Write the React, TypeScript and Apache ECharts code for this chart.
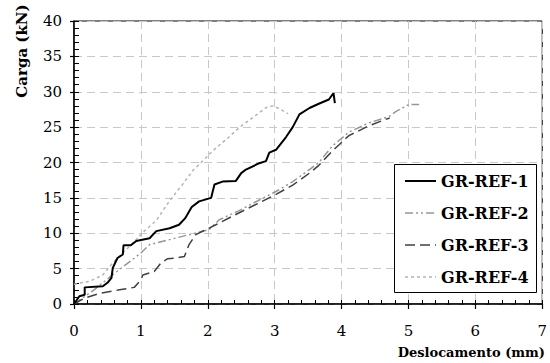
import React, { useEffect, useRef } from "react";
import * as echarts from "echarts";

const ref1X = [0, 0.08, 0.16, 0.16, 0.43, 0.5, 0.56, 0.58, 0.65, 0.73, 0.74, 0.85, 0.93, 1.13, 1.23, 1.43, 1.57, 1.66, 1.76, 1.87, 2.05, 2.1, 2.22, 2.42, 2.5, 2.57, 2.77, 2.87, 2.92, 3.02, 3.17, 3.27, 3.37, 3.52, 3.66, 3.81, 3.88, 3.9];
const ref1Y = [0, 1.1, 1.3, 2.35, 2.5, 3.0, 3.7, 5.1, 6.5, 7.0, 8.3, 8.3, 8.9, 9.3, 10.3, 10.7, 11.2, 12.1, 13.7, 14.5, 15.0, 16.9, 17.3, 17.4, 18.5, 19.0, 19.9, 20.2, 21.4, 21.8, 23.6, 25.0, 26.8, 27.7, 28.3, 28.9, 29.8, 28.4];

const ref2X = [0, 0.3, 0.6, 1.0, 1.13, 1.43, 1.72, 2.02, 2.17, 2.47, 2.77, 3.02, 3.27, 3.52, 3.66, 3.86, 4.11, 4.41, 4.71, 4.81, 5.01, 5.16];
const ref2Y = [0, 2.0, 4.3, 7.2, 8.4, 9.1, 9.8, 10.5, 11.9, 13.2, 14.7, 15.9, 17.3, 19.0, 20.0, 22.3, 24.3, 25.6, 26.5, 27.2, 28.2, 28.2];

const ref3X = [0, 0.15, 0.38, 0.68, 0.9, 1.0, 1.03, 1.2, 1.3, 1.4, 1.53, 1.65, 1.72, 1.82, 1.97, 2.12, 2.47, 2.77, 3.02, 3.27, 3.52, 3.66, 3.86, 4.11, 4.41, 4.72];
const ref3Y = [0, 0.8, 1.5, 2.0, 2.35, 3.4, 4.1, 4.6, 5.8, 6.4, 6.5, 6.7, 8.4, 9.8, 10.5, 11.2, 12.9, 14.3, 15.5, 16.8, 18.5, 19.6, 21.6, 23.8, 25.2, 26.3];

const ref4X = [0, 0.23, 0.43, 0.58, 0.73, 0.93, 1.05, 1.23, 1.43, 1.63, 1.78, 1.88, 2.08, 2.28, 2.48, 2.68, 2.88, 2.97, 3.07, 3.2];
const ref4Y = [2.8, 3.2, 4.1, 5.8, 7.2, 9.1, 10.3, 11.8, 14.6, 17.0, 18.9, 19.8, 21.7, 23.3, 25.0, 26.4, 27.8, 28.0, 27.6, 26.9];

const seriesNames = ["GR-REF-1", "GR-REF-2", "GR-REF-3", "GR-REF-4"];
const xTitle = "Deslocamento (mm)";
const yTitle = "Carga (kN)";

const zip = (xs: number[], ys: number[]) => xs.map((x, i) => [x, ys[i]]);

const FONT = "DejaVu Serif";

const styles = [
  { color: "#000000", width: 2, type: "solid" as any, dash: null as any },
  { color: "#969696", width: 1.5, type: [8, 3, 2, 3, 2, 3] as any, dash: [8, 3, 2, 3, 2, 3] },
  { color: "#404040", width: 1.5, type: [10, 5] as any, dash: [10, 5] },
  { color: "#b4b4b4", width: 1.5, type: [3, 3] as any, dash: [3, 3] },
];

export default function App() {
  const ref = useRef<HTMLDivElement>(null);
  useEffect(() => {
    if (!ref.current) return;
    const chart = echarts.init(ref.current, undefined, { renderer: "svg" });
    const datas = [zip(ref1X, ref1Y), zip(ref2X, ref2Y), zip(ref3X, ref3Y), zip(ref4X, ref4Y)];

    const legendBox = { x: 394, y: 164, w: 142, h: 128 };
    const legendRows = [181, 213, 245, 277];
    const legendEls: any[] = [
      {
        type: "rect",
        shape: { x: legendBox.x + 0.5, y: legendBox.y + 0.5, width: legendBox.w, height: legendBox.h },
        style: { fill: "#ffffff", stroke: "#000", lineWidth: 1 },
        z: 100,
      },
    ];
    seriesNames.forEach((name, i) => {
      legendEls.push({
        type: "line",
        shape: { x1: 405, y1: legendRows[i], x2: 436, y2: legendRows[i] },
        style: { stroke: styles[i].color, lineWidth: styles[i].width, lineDash: styles[i].dash },
        z: 101,
      });
      legendEls.push({
        type: "text",
        x: 441,
        y: legendRows[i],
        style: {
          text: name,
          font: "bold 16px " + FONT,
          fill: "#000",
          textAlign: "left",
          textVerticalAlign: "middle",
        },
        z: 101,
      });
    });

    chart.setOption({
      animation: false,
      backgroundColor: "#ffffff",
      textStyle: { fontFamily: FONT },
      grid: {
        left: 74,
        right: 6,
        top: 21,
        bottom: 59,
        show: true,
        borderColor: "#000",
        borderWidth: 1,
        backgroundColor: "transparent",
      },
      xAxis: [
        {
          type: "value",
          min: 0,
          max: 7,
          interval: 1,
          position: "bottom",
          axisLine: { show: true, onZero: false, lineStyle: { color: "#000", width: 1.5 } },
          axisTick: { show: true, inside: false, length: 5, lineStyle: { color: "#000", width: 1.2 } },
          axisLabel: { color: "#000", fontFamily: FONT, fontSize: 15, margin: 19 },
          splitLine: { show: true, lineStyle: { color: "#c8c8c8", type: [8, 5], width: 1 } },
        },
        {
          type: "value",
          min: 0,
          max: 7,
          interval: 0.2,
          position: "bottom",
          offset: 0,
          axisLine: { show: false, onZero: false },
          axisTick: { show: true, inside: true, length: 4, lineStyle: { color: "#000", width: 1 } },
          axisLabel: { show: false },
          splitLine: { show: false },
        },
      ],
      yAxis: [
        {
          type: "value",
          min: 0,
          max: 40,
          interval: 5,
          position: "left",
          axisLine: { show: true, onZero: false, lineStyle: { color: "#000", width: 1.5 } },
          axisTick: { show: true, inside: false, length: 4, lineStyle: { color: "#000", width: 1.2 } },
          axisLabel: { color: "#000", fontFamily: FONT, fontSize: 15, margin: 12 },
          splitLine: { show: true, lineStyle: { color: "#c8c8c8", type: [8, 5], width: 1 } },
        },
        {
          type: "value",
          min: 0,
          max: 40,
          interval: 1,
          position: "left",
          offset: 0,
          axisLine: { show: false, onZero: false },
          axisTick: { show: true, inside: true, length: 5, lineStyle: { color: "#000", width: 1 } },
          axisLabel: { show: false },
          splitLine: { show: false },
        },
      ],
      graphic: [
        {
          type: "text",
          x: 22,
          y: 51,
          rotation: Math.PI / 2,
          style: {
            text: yTitle,
            font: "bold 15px " + FONT,
            fill: "#000",
            textAlign: "center",
            textVerticalAlign: "middle",
          },
        },
        {
          type: "text",
          x: 545,
          y: 352,
          style: {
            text: xTitle,
            font: "bold 13px " + FONT,
            fill: "#000",
            textAlign: "right",
            textVerticalAlign: "middle",
          },
        },
        ...legendEls,
      ],
      series: seriesNames.map((name, i) => ({
        name,
        type: "line",
        xAxisIndex: 0,
        yAxisIndex: 0,
        data: datas[i],
        symbol: "none",
        showSymbol: false,
        smooth: false,
        color: styles[i].color,
        lineStyle: { color: styles[i].color, width: styles[i].width, type: styles[i].type },
        z: i === 0 ? 6 : 3,
      })),
    });
    return () => chart.dispose();
  }, []);
  return (
    <div
      ref={ref}
      style={{ position: "absolute", left: 0, top: 0, width: 550, height: 363, background: "#fff" }}
    />
  );
}
